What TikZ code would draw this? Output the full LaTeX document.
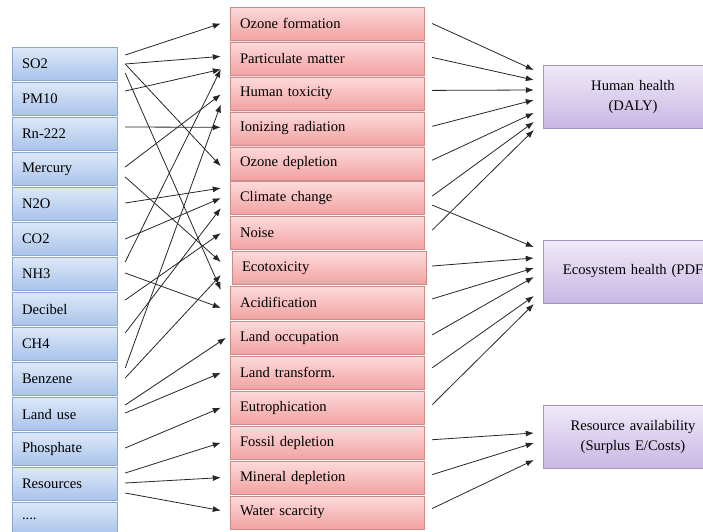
\documentclass[tikz,border=0pt]{standalone}
\usepackage{fontspec}
\setmainfont{Liberation Serif}
\usetikzlibrary{arrows.meta}
\definecolor{intop}{HTML}{DCE8F8}
\definecolor{inbot}{HTML}{A9C3EA}
\definecolor{inedge}{HTML}{8AA6D3}
\definecolor{midtop}{HTML}{FCDADA}
\definecolor{midbot}{HTML}{F3A2A2}
\definecolor{midedge}{HTML}{C98C8C}
\definecolor{outtop}{HTML}{F0EAF8}
\definecolor{outbot}{HTML}{C8B7E4}
\definecolor{outedge}{HTML}{A394C4}

\begin{document}
\begin{tikzpicture}[x=1pt,y=1pt,
  inbox/.style={draw=inedge,top color=intop,bottom color=inbot,minimum height=33pt,
    text width=85pt,inner xsep=10pt,align=left,font=\fontsize{14.6}{18}\selectfont},
  midbox/.style={draw=midedge,top color=midtop,bottom color=midbot,minimum height=33pt,
    text width=174pt,inner xsep=10pt,align=left,font=\fontsize{14.6}{18}\selectfont},
  outbox/.style={draw=outedge,top color=outtop,bottom color=outbot,minimum height=63pt,
    text width=160pt,inner xsep=10pt,align=center,font=\fontsize{14.6}{20}\selectfont},
  conn/.style={-{Latex[length=8pt,width=6pt]},line width=0.8pt,black!85}]
\useasboundingbox (0,0) rectangle (703,-531);
\clip (0,0) rectangle (703,-531);

\node[inbox] (SO) at (64.5,-64) {SO2};
\node[inbox] (PM) at (64.5,-99) {PM10};
\node[inbox] (RN) at (64.5,-134) {Rn-222};
\node[inbox] (HG) at (64.5,-169) {Mercury};
\node[inbox] (NO) at (64.5,-204) {N2O};
\node[inbox] (CO) at (64.5,-239) {CO2};
\node[inbox] (NH) at (64.5,-274) {NH3};
\node[inbox] (DB) at (64.5,-309) {Decibel};
\node[inbox] (CH) at (64.5,-344) {CH4};
\node[inbox] (BZ) at (64.5,-379) {Benzene};
\node[inbox] (LU) at (64.5,-414) {Land use};
\node[inbox] (PH) at (64.5,-449) {Phosphate};
\node[inbox] (RS) at (64.5,-484) {Resources};
\node[inbox] (ET) at (64.5,-519) {....};

\node[midbox] (OF) at (327,-23.5) {Ozone formation};
\node[midbox] (PF) at (327,-58.4) {Particulate matter};
\node[midbox] (HT) at (327,-93.4) {Human toxicity};
\node[midbox] (IR) at (327,-128.3) {Ionizing radiation};
\node[midbox] (OD) at (327,-163.2) {Ozone depletion};
\node[midbox] (CC) at (327,-198.1) {Climate change};
\node[midbox] (NS) at (327,-233.1) {Noise};
\node[midbox] (EC) at (329,-268) {Ecotoxicity};
\node[midbox] (AC) at (327,-302.9) {Acidification};
\node[midbox] (LO) at (327,-337.9) {Land occupation};
\node[midbox] (LT) at (327,-372.8) {Land transform.};
\node[midbox] (EU) at (327,-407.7) {Eutrophication};
\node[midbox] (FD) at (327,-442.7) {Fossil depletion};
\node[midbox] (MD) at (327,-477.6) {Mineral depletion};
\node[midbox] (WS) at (327,-512.5) {Water scarcity};

\node[outbox] (HH) at (633,-96.5) {Human health\\(DALY)};
\node[outbox] (EH) at (633,-271.5) {Ecosystem health (PDF};
\node[outbox] (RA) at (633,-436.5) {Resource availability\\(Surplus E/Costs)};

\path [conn] ([xshift=8,yshift=9]SO.east) edge ([xshift=-9]OF.west);
\path [conn] ([xshift=8]SO.east) edge ([xshift=-9,yshift=2]PF.west);
\path [conn] ([xshift=8]SO.east) edge ([xshift=-9,yshift=-3]OD.west);
\path [conn] ([xshift=8,yshift=-9]SO.east) edge ([xshift=-9,yshift=13]AC.west);
\path [conn] ([xshift=8,yshift=8]PM.east) edge ([xshift=-9,yshift=-11]PF.west);
\path [conn] ([xshift=8,yshift=7]RN.east) edge ([xshift=-9,yshift=1]IR.west);
\path [conn] ([xshift=8,yshift=2]HG.east) edge ([xshift=-9,yshift=-1]HT.west);
\path [conn] ([xshift=8,yshift=-8]HG.east) edge ([xshift=-11,yshift=6]EC.west);
\path [conn] ([xshift=8,yshift=1]NO.east) edge ([xshift=-9,yshift=10]CC.west);
\path [conn] ([xshift=8]CO.east) edge ([xshift=-9]CC.west);
\path [conn] ([xshift=8,yshift=12]NH.east) edge ([xshift=-9,yshift=-11]PF.west);
\path [conn] ([xshift=8,yshift=1]NH.east) edge ([xshift=-9,yshift=-5]AC.west);
\path [conn] ([xshift=8,yshift=9]DB.east) edge ([xshift=-9]NS.west);
\path [conn] ([xshift=8,yshift=11]CH.east) edge ([xshift=-9,yshift=-10]CC.west);
\path [conn] ([xshift=8,yshift=11]BZ.east) edge ([xshift=-9,yshift=-11]HT.west);
\path [conn] ([xshift=8,yshift=1]BZ.east) edge ([xshift=-11,yshift=-7]EC.west);
\path [conn] ([xshift=8,yshift=9]LU.east) edge ([xshift=-4]LO.west);
\path [conn] ([xshift=8,yshift=1]LU.east) edge ([xshift=-9]LT.west);
\path [conn] ([xshift=8,yshift=1]PH.east) edge ([xshift=-9]EU.west);
\path [conn] ([xshift=8,yshift=11]RS.east) edge ([xshift=-9]FD.west);
\path [conn] ([xshift=8,yshift=1]RS.east) edge ([xshift=-9]MD.west);
\path [conn] ([xshift=8,yshift=-9]RS.east) edge ([xshift=-9,yshift=2]WS.west);

\path [conn] ([xshift=8]OF.east) edge ([xshift=-9,yshift=26.5]HH.west);
\path [conn] ([xshift=8,yshift=1]PF.east) edge ([xshift=-9,yshift=16.5]HH.west);
\path [conn] ([xshift=8,yshift=3]HT.east) edge ([xshift=-9,yshift=6.5]HH.west);
\path [conn] ([xshift=8,yshift=2]IR.east) edge ([xshift=-9,yshift=-3.5]HH.west);
\path [conn] ([xshift=8,yshift=3]OD.east) edge ([xshift=-9,yshift=-16.5]HH.west);
\path [conn] ([xshift=8,yshift=2]CC.east) edge ([xshift=-9,yshift=-25.5]HH.west);
\path [conn] ([xshift=8,yshift=3]NS.east) edge ([xshift=-9,yshift=-33.5]HH.west);
\path [conn] ([xshift=8,yshift=-7]CC.east) edge ([xshift=-9,yshift=24.5]EH.west);
\path [conn] ([xshift=6,yshift=2]EC.east) edge ([xshift=-9,yshift=13.5]EH.west);
\path [conn] ([xshift=8,yshift=4]AC.east) edge ([xshift=-9,yshift=3.5]EH.west);
\path [conn] ([xshift=8,yshift=3]LO.east) edge ([xshift=-9,yshift=-5.5]EH.west);
\path [conn] ([xshift=8,yshift=5]LT.east) edge ([xshift=-9,yshift=-24.5]EH.west);
\path [conn] ([xshift=8,yshift=3]EU.east) edge ([xshift=-9,yshift=-32.5]EH.west);
\path [conn] ([xshift=8,yshift=3]FD.east) edge ([xshift=-9,yshift=3.5]RA.west);
\path [conn] ([xshift=8,yshift=3]MD.east) edge ([xshift=-9,yshift=-6.5]RA.west);
\path [conn] ([xshift=8,yshift=4]WS.east) edge ([xshift=-9,yshift=-23.5]RA.west);
\end{tikzpicture}
\end{document}
